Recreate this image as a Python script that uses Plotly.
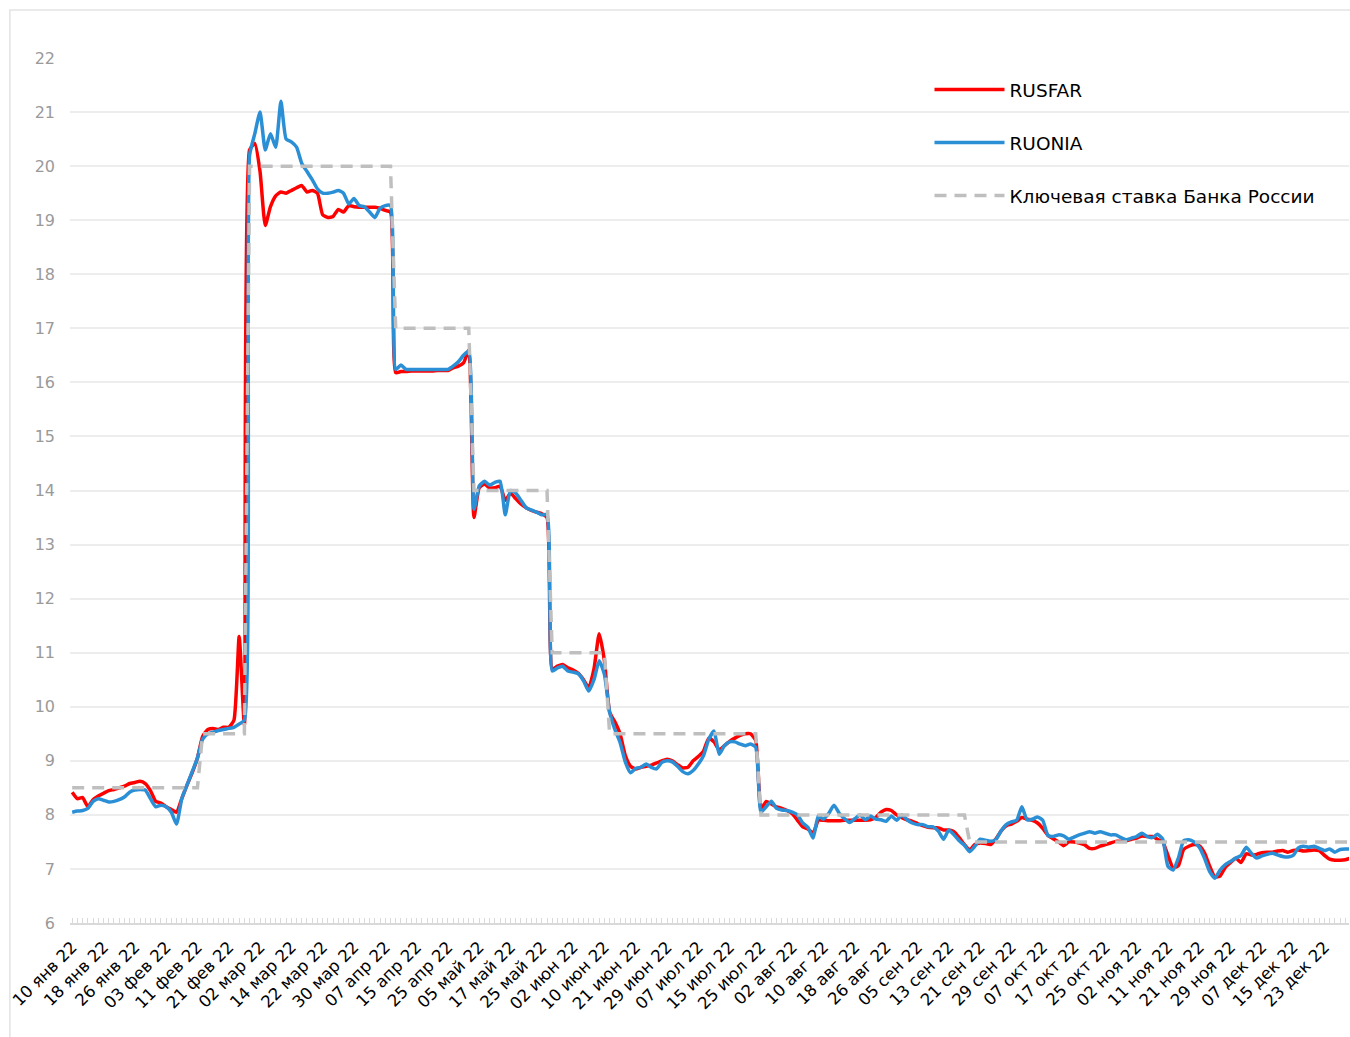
import pandas as pd
import plotly.graph_objects as go

# Trading days of 2022 (Russian calendar), used as categories on the x axis
MONTHS_RU = ["янв", "фев", "мар", "апр", "май", "июн", "июл", "авг", "сен", "окт", "ноя", "дек"]
HOLIDAYS = ["2022-02-23", "2022-03-07", "2022-03-08", "2022-05-02", "2022-05-03",
            "2022-05-09", "2022-05-10", "2022-06-13", "2022-11-04"]
days = pd.bdate_range("2022-01-10", "2022-12-30", freq="C", holidays=HOLIDAYS)
DATES = [f"{d.day:02d} {MONTHS_RU[d.month - 1]} {d:%y}" for d in days]

TICK_LABELS = [
    "10 янв 22", "18 янв 22", "26 янв 22", "03 фев 22", "11 фев 22", "21 фев 22",
    "02 мар 22", "14 мар 22", "22 мар 22", "30 мар 22", "07 апр 22", "15 апр 22",
    "25 апр 22", "05 май 22", "17 май 22", "25 май 22", "02 июн 22", "10 июн 22",
    "21 июн 22", "29 июн 22", "07 июл 22", "15 июл 22", "25 июл 22", "02 авг 22",
    "10 авг 22", "18 авг 22", "26 авг 22", "05 сен 22", "13 сен 22", "21 сен 22",
    "29 сен 22", "07 окт 22", "17 окт 22", "25 окт 22", "02 ноя 22", "11 ноя 22",
    "21 ноя 22", "29 ноя 22", "07 дек 22", "15 дек 22", "23 дек 22",
]

RUSFAR = [
    8.42, 8.30, 8.32, 8.15, 8.28, 8.35, 8.40, 8.45, 8.47, 8.50,
    8.53, 8.58, 8.60, 8.62, 8.58, 8.45, 8.25, 8.22, 8.15, 8.10,
    8.05, 8.30, 8.55, 8.78, 9.05, 9.45, 9.58, 9.60, 9.58, 9.62,
    9.62, 9.75, 11.30, 9.65, 20.30, 20.42, 19.90, 18.90, 19.25, 19.45,
    19.52, 19.50, 19.55, 19.60, 19.64, 19.52, 19.55, 19.50, 19.10, 19.05,
    19.07, 19.20, 19.15, 19.27, 19.25, 19.24, 19.24, 19.24, 19.24, 19.22,
    19.18, 19.15, 16.18, 16.20, 16.20, 16.21, 16.21, 16.21, 16.21, 16.21,
    16.22, 16.22, 16.22, 16.27, 16.30, 16.36, 16.60, 13.50, 14.05, 14.12,
    14.05, 14.05, 14.08, 13.82, 13.95, 13.85, 13.75, 13.68, 13.63, 13.60,
    13.57, 13.50, 10.70, 10.75, 10.78, 10.72, 10.68, 10.62, 10.50, 10.35,
    10.70, 11.35, 10.85, 9.90, 9.72, 9.50, 9.10, 8.90, 8.85, 8.88,
    8.90, 8.92, 8.96, 9.00, 9.03, 9.00, 8.93, 8.87, 8.88, 9.00,
    9.08, 9.18, 9.42, 9.35, 9.20, 9.28, 9.36, 9.42, 9.47, 9.50,
    9.50, 9.38, 8.10, 8.25, 8.20, 8.15, 8.12, 8.08, 8.02, 7.90,
    7.78, 7.74, 7.66, 7.90, 7.90, 7.89, 7.89, 7.89, 7.90, 7.90,
    7.90, 7.90, 7.90, 7.91, 7.95, 8.05, 8.10, 8.08, 8.00, 7.95,
    7.91, 7.88, 7.84, 7.80, 7.77, 7.76, 7.76, 7.72, 7.72, 7.69,
    7.58, 7.45, 7.35, 7.45, 7.48, 7.47, 7.45, 7.55, 7.70, 7.80,
    7.83, 7.88, 7.95, 7.92, 7.90, 7.85, 7.75, 7.62, 7.56, 7.50,
    7.43, 7.50, 7.50, 7.48, 7.45, 7.38, 7.38, 7.42, 7.45, 7.48,
    7.51, 7.51, 7.52, 7.55, 7.57, 7.61, 7.60, 7.60, 7.55, 7.50,
    7.25, 7.02, 7.06, 7.36, 7.42, 7.45, 7.43, 7.30, 7.05, 6.85,
    6.87, 7.03, 7.12, 7.20, 7.12, 7.28, 7.26, 7.27, 7.30, 7.31,
    7.31, 7.33, 7.34, 7.31, 7.34, 7.35, 7.33, 7.34, 7.35, 7.34,
    7.25, 7.18, 7.16, 7.16, 7.17, 7.20,
]

RUONIA = [
    8.05, 8.07, 8.08, 8.12, 8.25, 8.30, 8.27, 8.24, 8.25, 8.28,
    8.33, 8.42, 8.46, 8.47, 8.46, 8.30, 8.15, 8.18, 8.15, 8.05,
    7.83, 8.30, 8.55, 8.80, 9.05, 9.40, 9.50, 9.53, 9.56, 9.58,
    9.60, 9.62, 9.68, 9.75, 20.20, 20.60, 21.00, 20.30, 20.60, 20.35,
    21.20, 20.50, 20.45, 20.35, 20.05, 19.90, 19.75, 19.58, 19.50, 19.50,
    19.52, 19.55, 19.50, 19.30, 19.40, 19.27, 19.25, 19.15, 19.05, 19.22,
    19.27, 19.27, 16.24, 16.32, 16.24, 16.24, 16.24, 16.24, 16.24, 16.24,
    16.24, 16.24, 16.24, 16.30, 16.38, 16.50, 16.58, 13.65, 14.08, 14.17,
    14.10, 14.15, 14.17, 13.55, 14.00, 13.95, 13.82, 13.68, 13.64, 13.60,
    13.55, 13.55, 10.66, 10.72, 10.75, 10.66, 10.64, 10.61, 10.48, 10.29,
    10.50, 10.85, 10.60, 9.90, 9.58, 9.34, 8.98, 8.78, 8.86, 8.88,
    8.94, 8.88, 8.85, 8.97, 9.00, 8.98, 8.90, 8.80, 8.76, 8.82,
    8.94, 9.10, 9.40, 9.55, 9.12, 9.28, 9.35, 9.35, 9.31, 9.28,
    9.31, 9.25, 8.05, 8.15, 8.25, 8.12, 8.09, 8.08, 8.05, 8.00,
    7.85, 7.77, 7.57, 7.98, 7.92, 8.03, 8.18, 8.03, 7.93, 7.86,
    7.93, 8.00, 7.91, 7.98, 7.92, 7.91, 7.88, 7.98, 7.90, 8.00,
    7.91, 7.85, 7.82, 7.82, 7.78, 7.78, 7.70, 7.55, 7.72, 7.63,
    7.52, 7.44, 7.32, 7.42, 7.55, 7.53, 7.51, 7.54, 7.70, 7.82,
    7.87, 7.90, 8.15, 7.91, 7.92, 7.96, 7.90, 7.62, 7.60, 7.63,
    7.61, 7.55, 7.59, 7.63, 7.66, 7.69, 7.66, 7.69, 7.66, 7.63,
    7.63, 7.58, 7.54, 7.57, 7.60, 7.66, 7.60, 7.58, 7.64, 7.55,
    7.05, 6.98, 7.20, 7.52, 7.54, 7.50, 7.40, 7.20, 6.95, 6.83,
    6.98, 7.08, 7.14, 7.20, 7.25, 7.40, 7.29, 7.20, 7.24, 7.27,
    7.29, 7.26, 7.23, 7.22, 7.25, 7.39, 7.42, 7.40, 7.42, 7.38,
    7.34, 7.37, 7.31, 7.36, 7.37, 7.37,
]

# Key rate: last day of the old level and first day of the new one
KEY_DATES = [
    "10 янв 22", "11 фев 22", "14 фев 22", "25 фев 22", "28 фев 22", "08 апр 22",
    "11 апр 22", "29 апр 22", "04 май 22", "26 май 22", "27 май 22", "10 июн 22",
    "14 июн 22", "22 июл 22", "25 июл 22", "16 сен 22", "19 сен 22", "30 дек 22",
]
KEY_RATES = [8.5, 8.5, 9.5, 9.5, 20, 20, 17, 17, 14, 14, 11, 11, 9.5, 9.5, 8, 8, 7.5, 7.5]

assert len(DATES) == len(RUSFAR) == len(RUONIA)

FONT = "DejaVu Sans"

fig = go.Figure()
fig.add_trace(go.Scatter(
    x=DATES, y=RUSFAR, mode="lines", name="RUSFAR", legendgroup="rusfar",
    line=dict(color="#FF0000", width=3.5, shape="spline", smoothing=0.5),
))
fig.add_trace(go.Scatter(
    x=DATES, y=RUONIA, mode="lines", name="RUONIA", legendgroup="ruonia",
    line=dict(color="#2B8FD6", width=3.5, shape="spline", smoothing=0.5),
))
fig.add_trace(go.Scatter(
    x=KEY_DATES, y=KEY_RATES, mode="lines", name="Ключевая ставка Банка России",
    legendgroup="key", line=dict(color="#BFBFBF", width=3.5, dash="12px,8px"),
))

ticktext = [d if d in TICK_LABELS else "" for d in DATES]

fig.update_layout(
    width=1350,
    height=1037,
    margin=dict(l=70, r=1, t=58, b=114),
    paper_bgcolor="white",
    plot_bgcolor="white",
    font=dict(family=FONT, color="#000000"),
    showlegend=True,
    legend=dict(
        x=0.672, y=0.985, xanchor="left", yanchor="top",
        font=dict(family=FONT, size=18.5, color="#000000"),
        bgcolor="rgba(0,0,0,0)", itemwidth=70,
        traceorder="grouped", tracegroupgap=26,
    ),
    xaxis=dict(
        type="category",
        categoryorder="array",
        categoryarray=DATES,
        range=[-0.42, 244.7],
        tickmode="array",
        tickvals=DATES,
        ticktext=ticktext,
        tickangle=-45,
        ticks="inside",
        ticklen=5,
        tickwidth=1,
        tickcolor="#D9D9D9",
        showline=True,
        linecolor="#D9D9D9",
        linewidth=2,
        showgrid=False,
        ticklabelstandoff=6,
        tickfont=dict(family=FONT, size=16.5, color="#000000"),
    ),
    yaxis=dict(
        range=[6, 22],
        tick0=6,
        dtick=1,
        showgrid=True,
        gridcolor="#EDEDED",
        gridwidth=1.5,
        zeroline=False,
        showline=False,
        ticklabelstandoff=14,
        tickfont=dict(family=FONT, size=16, color="#9A9A9A"),
    ),
    shapes=[dict(
        type="rect", xref="paper", yref="paper",
        x0=-0.047, x1=1.05, y0=-0.2, y1=1.0555,
        line=dict(color="#E3E3E3", width=1.5), fillcolor="rgba(0,0,0,0)",
        layer="below",
    )],
)

fig.write_html(
    "out.html",
    config={"displayModeBar": False},
    post_script="document.body.style.margin='0';",
)
